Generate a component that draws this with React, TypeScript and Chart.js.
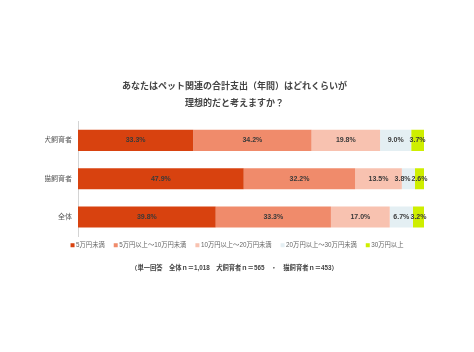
import React, { useEffect, useRef } from "react";
import { Chart, registerables } from "chart.js";

Chart.register(...registerables);

const titleLines = ["あなたはペット関連の合計支出（年間）はどれくらいが", "理想的だと考えますか？"];
const categories = ["犬飼育者", "猫飼育者", "全体"];
const seriesNames = ["5万円未満", "5万円以上～10万円未満", "10万円以上～20万円未満", "20万円以上～30万円未満", "30万円以上"];
const under5 = [33.3, 47.9, 39.8];
const from5to10 = [34.2, 32.2, 33.3];
const from10to20 = [19.8, 13.5, 17.0];
const from20to30 = [9.0, 3.8, 6.7];
const over30 = [3.7, 2.6, 3.2];
const seriesColors = ["#D8420F", "#F08B6B", "#F8C2B0", "#E4EFF3", "#CEEE00"];
const footnote = "（単一回答　全体ｎ＝1,018　犬飼育者ｎ＝565　・　猫飼育者ｎ＝453）";

const FONT = "'Liberation Sans', 'Noto Sans CJK JP', sans-serif";

const labelPlugin = {
  id: "segLabels",
  afterDatasetsDraw(chart: any) {
    const ctx = chart.ctx;
    ctx.save();
    ctx.font = `bold 7px ${FONT}`;
    ctx.fillStyle = "#3a3a3a";
    ctx.textAlign = "center";
    ctx.textBaseline = "middle";
    const nCat = chart.data.labels.length;
    for (let c = 0; c < nCat; c++) {
      const items: any[] = [];
      chart.data.datasets.forEach((ds: any, di: number) => {
        const meta = chart.getDatasetMeta(di);
        const el = meta.data[c];
        if (!el) return;
        const text = ds.data[c].toFixed(1) + "%";
        const w = ctx.measureText(text).width;
        items.push({ text, x: (el.x + el.base) / 2, y: el.y, w });
      });
      for (let i = items.length - 2; i >= 0; i--) {
        const a = items[i], b = items[i + 1];
        const maxRight = b.x - b.w / 2 - 1;
        if (a.x + a.w / 2 > maxRight) a.x = maxRight - a.w / 2;
      }
      items.forEach((it) => ctx.fillText(it.text, it.x, it.y));
    }
    ctx.restore();
  },
};

const legendPlugin = {
  id: "compactLegend",
  afterDraw(chart: any) {
    const ctx = chart.ctx;
    ctx.save();
    ctx.font = `6.3px ${FONT}`;
    ctx.textBaseline = "middle";
    ctx.textAlign = "left";
    const box = 4, boxGap = 1.5, itemGap = 9;
    const items = chart.data.datasets.map((ds: any) => ({
      text: ds.label,
      color: ds.backgroundColor,
      w: box + boxGap + ctx.measureText(ds.label).width,
    }));
    const total = items.reduce((s: number, it: any) => s + it.w, 0) + itemGap * (items.length - 1);
    let x = chart.width / 2 - total / 2;
    const y = chart.chartArea.bottom + 9;
    items.forEach((it: any) => {
      ctx.fillStyle = it.color;
      ctx.fillRect(x, y - box / 2, box, box);
      ctx.fillStyle = "#666";
      ctx.fillText(it.text, x + box + boxGap, y);
      x += it.w + itemGap;
    });
    ctx.restore();
  },
};

export default function App() {
  const ref = useRef<HTMLCanvasElement>(null);
  useEffect(() => {
    const datasets = [under5, from5to10, from10to20, from20to30, over30].map((d, i) => ({
      label: seriesNames[i],
      data: d,
      backgroundColor: seriesColors[i],
      borderWidth: 0,
      barPercentage: 0.55,
      categoryPercentage: 1,
    }));
    const chart = new Chart(ref.current!, {
      type: "bar",
      data: { labels: categories, datasets },
      options: {
        indexAxis: "y",
        animation: false,
        responsive: false,
        layout: { padding: { left: 45, right: 50, top: 0, bottom: 80 } },
        scales: {
          x: { display: false, stacked: true, min: 0, max: 100 },
          y: {
            stacked: true,
            grid: { display: false, drawTicks: false },
            border: { display: true, color: "#d4d4d4" },
            ticks: { font: { size: 7, family: FONT }, color: "#555", padding: 6 },
            afterFit: (s: any) => { s.width = 33; },
          },
        },
        plugins: {
          title: {
            display: true,
            text: titleLines,
            color: "#444",
            font: { size: 9, weight: "bold", family: FONT, lineHeight: 1.9 },
            padding: { top: 78, bottom: 9 },
          },
          legend: { display: false },
          subtitle: {
            display: true,
            position: "bottom",
            text: footnote,
            color: "#444",
            font: { size: 6.3, weight: "bold", family: FONT },
            padding: { top: 28.2, bottom: 0 },
          },
          tooltip: { enabled: false },
        },
      },
      plugins: [labelPlugin, legendPlugin],
    });
    return () => chart.destroy();
  }, []);
  return (
    <div style={{ position: "fixed", left: 0, top: 0, width: 474, height: 352, background: "#fff" }}>
      <canvas ref={ref} width={474} height={352} style={{ width: 474, height: 352 }} />
    </div>
  );
}
